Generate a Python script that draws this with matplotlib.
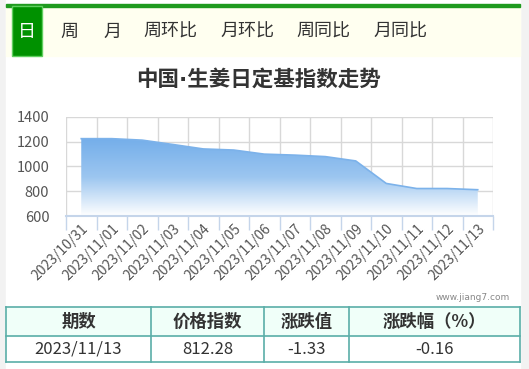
import matplotlib
matplotlib.use("Agg")
import matplotlib.pyplot as plt
import numpy as np
from matplotlib.patches import Rectangle, Polygon

plt.rcParams['font.family'] = ['Noto Sans CJK SC', 'DejaVu Sans']

# data
dates = ["2023/10/31", "2023/11/01", "2023/11/02", "2023/11/03", "2023/11/04",
         "2023/11/05", "2023/11/06", "2023/11/07", "2023/11/08", "2023/11/09",
         "2023/11/10", "2023/11/11", "2023/11/12", "2023/11/13"]
index_values = [1225, 1225, 1213, 1178, 1142, 1133, 1100, 1092, 1080, 1045,
                863, 822, 822, 812.28]
y_ticks = [600, 800, 1000, 1200, 1400]
tabs = ["日", "周", "月", "周环比", "月环比", "周同比", "月同比"]
tab_x = [27, 69, 112, 170, 247, 323, 400]
table_header = ["期数", "价格指数", "涨跌值", "涨跌幅（%）"]
table_row = ["2023/11/13", "812.28", "-1.33", "-0.16"]
col_edges = [6, 151, 264, 349, 520]

W, H = 529, 369
fig = plt.figure(figsize=(W / 100, H / 100), dpi=100)

# background drawn in pixel coordinates (y down)
bg = fig.add_axes([0, 0, 1, 1])
bg.set_xlim(0, W)
bg.set_ylim(H, 0)
bg.axis("off")
bg.add_patch(Rectangle((0, 0), W, H, color="#f2f2f2", zorder=0))
bg.add_patch(Rectangle((6, 0), 514, H, color="white", zorder=1))
bg.add_patch(Rectangle((6, 6), 514, 50, color="#fffff0", zorder=2))
bg.add_patch(Rectangle((6, 4), 514, 3, color="#1f9a1f", zorder=3))
bg.add_patch(Rectangle((12, 6), 30, 50, facecolor="#009100", edgecolor="#5fcf5f",
                       lw=1, zorder=3))
for i, (t, x) in enumerate(zip(tabs, tab_x)):
    bg.text(x, 32, t, ha="center", va="center", fontsize=13,
            color="white" if i == 0 else "#333333", zorder=4)

bg.text(258, 79, "中国·生姜日定基指数走势", ha="center", va="center",
        fontsize=15.5, fontweight="bold", color="#333333",
        family=["DejaVu Sans", "Noto Sans CJK SC"], zorder=4)
bg.text(510, 297, "www.jiang7.com", ha="right", va="center", fontsize=6.5,
        color="#888888", family="DejaVu Sans", zorder=4)

# table
bg.add_patch(Rectangle((6, 307), 514, 29, color="#f0fff9", zorder=2))
for y in (307, 336, 362):
    bg.plot([6, 520], [y, y], color="#5aaea8", lw=1.2, zorder=3)
for x in col_edges:
    bg.plot([x, x], [307, 362], color="#5aaea8", lw=1.2, zorder=3)
for j in range(4):
    cx = (col_edges[j] + col_edges[j + 1]) / 2
    bg.text(cx, 322, table_header[j], ha="center", va="center", fontsize=12.5,
            fontweight="bold", color="#333333", zorder=4)
    bg.text(cx, 349.5, table_row[j], ha="center", va="center", fontsize=12,
            color="#333333", zorder=4)

# chart
left, right, top, bottom = 66, 493, 117, 216
ax = fig.add_axes([left / W, 1 - bottom / H, (right - left) / W, (bottom - top) / H])
ax.set_facecolor("none")
x = np.arange(len(dates))
ax.set_xlim(-0.5, len(dates) - 0.5)
ax.set_ylim(600, 1400)

grad = np.linspace(1, 0, 256).reshape(-1, 1)
cmap = matplotlib.colors.LinearSegmentedColormap.from_list(
    "g", ["#ffffff", "#9cc6f0", "#74aeea"])
img = ax.imshow(grad, extent=[-0.5, len(dates) - 0.5, 600, max(index_values)],
                aspect="auto", cmap=cmap, origin="upper", zorder=1)
poly = Polygon(list(zip(x, index_values)) + [(x[-1], 600), (x[0], 600)],
               closed=True, transform=ax.transData, facecolor="none", edgecolor="none")
ax.add_patch(poly)
img.set_clip_path(poly)
ax.plot(x, index_values, color="#7cb2ea", lw=1.2, zorder=3)

ax.set_yticks(y_ticks)
ax.set_yticklabels([str(v) for v in y_ticks], fontsize=10.5, color="#555555")
ax.set_xticks(x)
ax.set_xticklabels(dates, rotation=45, ha="right", rotation_mode="anchor",
                   fontsize=10, color="#555555")
ax.set_xticks(np.arange(-0.5, len(dates)), minor=True)
ax.tick_params(axis="x", which="major", length=0, pad=4)
ax.tick_params(axis="x", which="minor", length=10, color="#c5d5ea", width=1)
ax.tick_params(axis="y", length=0, pad=12)
ax.grid(axis="y", color="#d8d8d8", lw=1, zorder=0)
ax.grid(axis="x", which="minor", color="#d8d8d8", lw=1, zorder=0)
ax.set_axisbelow(True)
for s in ("top", "right", "left"):
    ax.spines[s].set_visible(False)
ax.spines["bottom"].set_color("#c5d5ea")
ax.spines["bottom"].set_linewidth(1.5)
ax.spines["bottom"].set_zorder(4)

fig.savefig("out.png", dpi=100)
